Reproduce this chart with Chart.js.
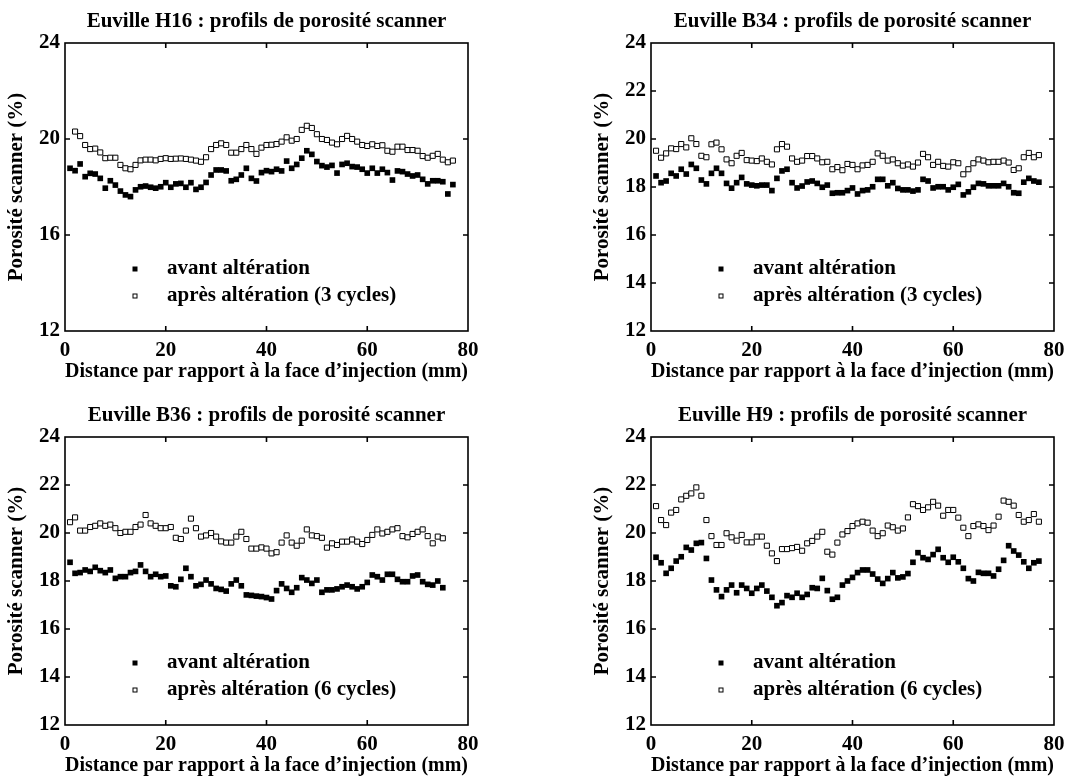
<!DOCTYPE html>
<html>
<head>
<meta charset="utf-8">
<script src="https://cdn.jsdelivr.net/npm/chart.js@4.4.0/dist/chart.umd.min.js"></script>
<style>
html, body { margin: 0; padding: 0; background: #fff; overflow: hidden; width: 1071px; height: 779px; }
canvas { position: absolute; }
</style>
</head>
<body>
<canvas id="g1" width="586" height="394" style="left:0;top:0"></canvas>
<canvas id="g2" width="586" height="394" style="left:586px;top:0"></canvas>
<canvas id="g3" width="586" height="394" style="left:0;top:394px"></canvas>
<canvas id="g4" width="586" height="394" style="left:586px;top:394px"></canvas>
<script>
// distances a la face d'injection (mm)
var dist77 = [1,2,3,4,5,6,7,8,9,10,11,12,13,14,15,16,17,18,19,20,21,22,23,24,25,26,27,28,29,30,31,32,33,34,35,36,37,38,39,40,41,42,43,44,45,46,47,48,49,50,51,52,53,54,55,56,57,58,59,60,61,62,63,64,65,66,67,68,69,70,71,72,73,74,75,76,77];
var dist75 = [1,2,3,4,5,6,7,8,9,10,11,12,13,14,15,16,17,18,19,20,21,22,23,24,25,26,27,28,29,30,31,32,33,34,35,36,37,38,39,40,41,42,43,44,45,46,47,48,49,50,51,52,53,54,55,56,57,58,59,60,61,62,63,64,65,66,67,68,69,70,71,72,73,74,75];

// Euville H16
var h16Avant = [18.78,18.68,18.96,18.43,18.57,18.54,18.36,17.95,18.26,18.08,17.83,17.67,17.6,17.88,18.01,18.04,17.99,17.95,18.01,18.18,17.99,18.13,18.15,17.99,18.18,17.9,17.99,18.19,18.5,18.71,18.71,18.67,18.26,18.32,18.5,18.78,18.36,18.25,18.6,18.68,18.64,18.74,18.67,19.08,18.78,18.94,19.2,19.51,19.36,19.06,18.89,18.83,18.9,18.58,18.94,18.99,18.85,18.83,18.74,18.58,18.78,18.58,18.74,18.6,18.29,18.67,18.64,18.54,18.46,18.5,18.32,18.13,18.26,18.26,18.22,17.71,18.1];
var h16Apres = [null,20.31,20.12,19.75,19.58,19.6,19.44,19.2,19.22,19.22,18.92,18.78,18.74,18.92,19.11,19.14,19.14,19.11,19.17,19.2,19.17,19.18,19.19,19.17,19.14,19.1,19.05,19.24,19.58,19.75,19.82,19.75,19.43,19.43,19.58,19.75,19.58,19.38,19.64,19.75,19.76,19.79,19.89,20.07,19.93,20.0,20.38,20.55,20.46,20.2,20.0,19.96,19.85,19.78,20.0,20.13,20.0,19.89,19.75,19.71,19.78,19.71,19.74,19.51,19.47,19.68,19.68,19.54,19.54,19.51,19.29,19.22,19.3,19.38,19.14,19.03,19.1];

// Euville B34
var b34Avant = [18.46,18.18,18.25,18.57,18.46,18.74,18.54,18.94,18.78,18.29,18.13,18.57,18.78,18.57,18.15,17.95,18.18,18.4,18.13,18.08,18.05,18.08,18.08,17.85,18.36,18.67,18.74,18.18,17.96,18.04,18.21,18.25,18.15,17.99,18.08,17.74,17.76,17.76,17.85,17.96,17.71,17.85,17.88,18.01,18.32,18.32,18.05,18.18,17.94,17.88,17.88,17.83,17.88,18.32,18.25,17.96,18.01,18.01,17.88,17.99,18.11,17.67,17.8,17.99,18.15,18.13,18.05,18.05,18.05,18.15,18.01,17.76,17.74,18.2,18.36,18.25,18.2];
var b34Apres = [19.51,19.22,19.4,19.61,19.58,19.79,19.65,20.03,19.79,19.3,19.24,19.78,19.85,19.57,19.15,18.99,19.3,19.42,19.12,19.1,19.08,19.19,19.05,18.94,19.57,19.79,19.68,19.19,19.05,19.1,19.29,19.29,19.19,19.03,19.05,18.74,18.83,18.7,18.96,18.92,18.74,18.9,18.92,19.05,19.4,19.3,19.1,19.15,18.99,18.89,18.94,18.85,19.02,19.38,19.24,18.92,19.05,18.88,18.85,19.03,18.99,18.53,18.74,18.99,19.15,19.1,19.03,19.05,19.05,19.1,19.02,18.71,18.78,19.24,19.42,19.24,19.33];

// Euville B36
var b36Avant = [18.78,18.32,18.35,18.46,18.4,18.57,18.43,18.35,18.46,18.11,18.18,18.18,18.35,18.4,18.67,18.4,18.18,18.28,18.18,18.21,17.8,17.76,18.07,18.53,18.18,17.8,17.86,18.04,17.88,17.69,17.65,17.58,17.88,18.04,17.8,17.42,17.4,17.37,17.35,17.31,17.25,17.6,17.88,17.69,17.53,17.72,18.14,18.04,17.9,18.04,17.53,17.63,17.63,17.67,17.76,17.83,17.76,17.67,17.76,17.94,18.25,18.18,18.04,18.28,18.28,18.07,17.97,17.97,18.21,18.25,17.97,17.86,17.83,18.0,17.72];
var b36Apres = [20.45,20.65,20.1,20.1,20.25,20.3,20.4,20.3,20.35,20.2,20.0,20.05,20.05,20.25,20.35,20.75,20.4,20.3,20.2,20.2,20.25,19.8,19.75,20.1,20.6,20.2,19.85,19.9,20.0,19.85,19.65,19.6,19.6,19.85,20.05,19.75,19.35,19.35,19.4,19.35,19.15,19.2,19.6,19.9,19.6,19.47,19.68,20.15,19.9,19.87,19.8,19.39,19.57,19.5,19.64,19.64,19.73,19.64,19.54,19.71,19.92,20.15,19.98,20.05,20.15,20.2,19.87,19.82,19.96,20.05,20.15,19.87,19.57,19.85,19.78];

// Euville H9
var h9Avant = [18.99,18.76,18.32,18.53,18.83,19.01,19.4,19.29,19.57,19.6,18.94,18.04,17.63,17.35,17.63,17.83,17.51,17.83,17.69,17.49,17.69,17.83,17.58,17.32,16.97,17.1,17.39,17.32,17.49,17.32,17.44,17.72,17.69,18.11,17.6,17.24,17.32,17.83,18.0,18.15,18.35,18.46,18.46,18.29,18.08,17.9,18.1,18.35,18.13,18.17,18.31,18.78,19.18,18.97,18.9,19.1,19.32,18.97,18.78,18.99,18.8,18.53,18.1,18.0,18.36,18.32,18.32,18.21,18.49,18.86,19.47,19.25,19.08,18.8,18.53,18.76,18.83];
var h9Apres = [21.12,20.54,20.33,20.85,20.96,21.4,21.55,21.65,21.9,21.55,20.54,19.87,19.5,19.5,19.99,19.82,19.68,19.92,19.61,19.61,19.85,19.85,19.47,19.15,18.83,19.33,19.33,19.37,19.42,19.26,19.57,19.67,19.85,20.05,19.22,19.1,19.6,19.94,20.08,20.29,20.4,20.47,20.43,20.1,19.87,19.99,20.31,20.24,20.1,20.19,20.65,21.2,21.12,20.96,21.07,21.3,21.14,20.72,20.96,20.96,20.64,20.22,19.87,20.29,20.36,20.29,20.12,20.31,20.68,21.35,21.3,21.14,20.75,20.47,20.54,20.79,20.47];

var police = '"Liberation Serif", "Times New Roman", serif';
Chart.defaults.font.family = police;
Chart.defaults.font.weight = 'bold';
Chart.defaults.color = '#000';

function points(xs, ys) {
    return ys.map(function (v, i) { return { x: xs[i], y: v }; });
}

// cadre, graduations interieures et legende dans le graphe
var cadre = {
    id: 'cadre',
    afterDatasetsDraw: function (chart) {
        var ctx = chart.ctx, a = chart.chartArea;
        var sx = chart.scales.x, sy = chart.scales.y;
        ctx.save();
        ctx.strokeStyle = '#000';
        ctx.lineWidth = 1.6;
        ctx.strokeRect(a.left, a.top, a.right - a.left, a.bottom - a.top);
        ctx.beginPath();
        sx.ticks.forEach(function (t) {
            var p = sx.getPixelForValue(t.value);
            if (p > a.left + 1 && p < a.right - 1) {
                ctx.moveTo(p, a.bottom); ctx.lineTo(p, a.bottom - 5);
                ctx.moveTo(p, a.top); ctx.lineTo(p, a.top + 5);
            }
        });
        sy.ticks.forEach(function (t) {
            var p = sy.getPixelForValue(t.value);
            if (p > a.top + 1 && p < a.bottom - 1) {
                ctx.moveTo(a.left, p); ctx.lineTo(a.left + 5, p);
                ctx.moveTo(a.right, p); ctx.lineTo(a.right - 5, p);
            }
        });
        ctx.stroke();

        ctx.font = 'bold 21px ' + police;
        ctx.fillStyle = '#000';
        ctx.textBaseline = 'middle';
        ctx.lineWidth = 1;
        chart.data.datasets.forEach(function (ds, i) {
            var y = a.top + 226 + i * 27;
            var x = a.left + 70;
            if (i === 0) {
                ctx.fillRect(x - 2.5, y - 2.5, 5, 5);
            } else {
                ctx.strokeRect(x - 2, y - 2, 4, 4);
            }
            ctx.fillText(ds.label, a.left + 102, y);
        });
        ctx.restore();
    }
};

function graphe(id, titre, cycles, xs, avant, apres, pasY) {
    var ctx = document.getElementById(id).getContext('2d');
    return new Chart(ctx, {
        type: 'scatter',
        data: {
            datasets: [{
                label: 'avant altération',
                data: points(xs, avant),
                pointStyle: 'rect',
                pointRadius: 4,
                backgroundColor: '#000',
                borderWidth: 0
            }, {
                label: 'après altération (' + cycles + ' cycles)',
                data: points(xs, apres),
                pointStyle: 'rect',
                pointRadius: 3.6,
                backgroundColor: '#fff',
                borderColor: '#000',
                borderWidth: 1
            }]
        },
        options: {
            responsive: false,
            animation: false,
            events: [],
            layout: { padding: { left: 0, right: 118, top: 0, bottom: 0 } },
            plugins: {
                legend: { display: false },
                tooltip: { enabled: false },
                title: {
                    display: true,
                    text: titre,
                    fullSize: false,
                    color: '#000',
                    font: { size: 21, weight: 'bold' },
                    padding: { top: 9, bottom: 8.8 }
                }
            },
            scales: {
                x: {
                    type: 'linear',
                    min: 0,
                    max: 80,
                    ticks: { stepSize: 20, padding: 7, font: { size: 21, weight: 'bold' }, color: '#000' },
                    grid: { display: false, drawTicks: false },
                    border: { display: false },
                    title: {
                        display: true,
                        text: 'Distance par rapport à la face d’injection (mm)',
                        color: '#000',
                        font: { size: 21, weight: 'bold' },
                        padding: { top: 0, bottom: 10 }
                    },
                    afterFit: function (s) { s.height = 63; }
                },
                y: {
                    min: 12,
                    max: 24,
                    ticks: { stepSize: pasY, padding: 5, font: { size: 21, weight: 'bold' }, color: '#000' },
                    grid: { display: false, drawTicks: false },
                    border: { display: false },
                    title: {
                        display: true,
                        text: 'Porosité scanner (%)',
                        color: '#000',
                        font: { size: 21, weight: 'bold' },
                        padding: { top: 4, bottom: 0 }
                    },
                    afterFit: function (s) { s.width = 65; }
                }
            }
        },
        plugins: [cadre]
    });
}

graphe('g1', 'Euville H16 : profils de porosité scanner', 3, dist77, h16Avant, h16Apres, 4);
graphe('g2', 'Euville B34 : profils de porosité scanner', 3, dist77, b34Avant, b34Apres, 2);
graphe('g3', 'Euville B36 : profils de porosité scanner', 6, dist75, b36Avant, b36Apres, 2);
graphe('g4', 'Euville H9 : profils de porosité scanner', 6, dist77, h9Avant, h9Apres, 2);
</script>
</body>
</html>
